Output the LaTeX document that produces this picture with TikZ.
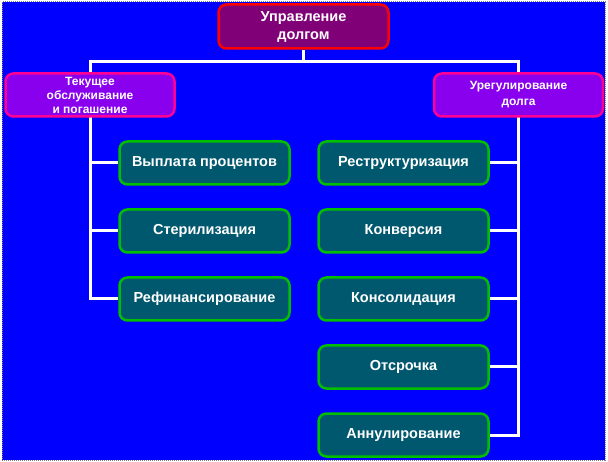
\documentclass[tikz,border=0pt]{standalone}
\usepackage{fontspec}
\setmainfont{Liberation Sans}
\usepackage{xcolor}
\usetikzlibrary{positioning,calc}

\definecolor{bgblue}{RGB}{0,0,255}
\definecolor{topfill}{RGB}{128,0,120}
\definecolor{topline}{RGB}{255,0,0}
\definecolor{midfill}{RGB}{136,0,238}
\definecolor{midline}{RGB}{255,0,150}
\definecolor{leaffill}{RGB}{0,88,110}
\definecolor{leafline}{RGB}{0,190,0}

\pgfdeclarelayer{canvas}
\pgfdeclarelayer{lines}
\pgfsetlayers{canvas,lines,main}

\begin{document}
\begin{tikzpicture}[
    x=1pt, y=-1pt,
    font=\bfseries\fontsize{14.5}{18}\selectfont,
    box/.style={rectangle, rounded corners=8pt, line width=2.5pt, text=white,
                align=center, inner sep=2pt},
    topbox/.style={box, fill=topfill, draw=topline, minimum width=170pt, minimum height=44pt},
    midbox/.style={box, fill=midfill, draw=midline, minimum width=169pt, minimum height=43pt},
    leaf/.style={box, fill=leaffill, draw=leafline, minimum width=170pt, minimum height=43pt},
    conn/.style={draw=white, line width=3pt}
]
\useasboundingbox (0,0) rectangle (608,462);

% top and second level
\node[topbox] (debt) at (303.5,26.5) {Управление\\долгом};
\node[midbox, font=\bfseries\fontsize{12}{14}\selectfont] (serv) at (90,95)
     {Текущее\\обслуживание\\и погашение};
\node[midbox, font=\bfseries\fontsize{12}{16}\selectfont] (settle) at (518.5,95)
     {Урегулирование\\долга};

% leaves, left column
\node[leaf] (pay)   at (204.5,163) {Выплата процентов};
\node[leaf] (ster)  at (204.5,231) {Стерилизация};
\node[leaf] (refin) at (204.5,299) {Рефинансирование};
% leaves, right column
\node[leaf] (restr) at (403.5,163) {Реструктуризация};
\node[leaf] (conv)  at (403.5,231) {Конверсия};
\node[leaf] (cons)  at (403.5,299) {Консолидация};
\node[leaf] (defer) at (403.5,367) {Отсрочка};
\node[leaf] (annul) at (403.5,435) {Аннулирование};

% connectors, behind the boxes
\begin{pgfonlayer}{lines}
\draw[conn] (debt.south) -- ++(0,12) coordinate (bus);
\draw[conn] (serv.center) |- (bus) -| (settle.center);
\foreach \n in {pay,ster,refin}
  \draw[conn] (serv.center) |- (\n.west);
\foreach \n in {restr,conv,cons,defer,annul}
  \draw[conn] (settle.center) |- (\n.east);
\end{pgfonlayer}

% background
\begin{pgfonlayer}{canvas}
\fill[white] (0,0) rectangle (608,462);
\filldraw[fill=bgblue, draw=gray, densely dotted, line width=1pt] (2,2) rectangle (605,460);
\end{pgfonlayer}
\end{tikzpicture}
\end{document}
